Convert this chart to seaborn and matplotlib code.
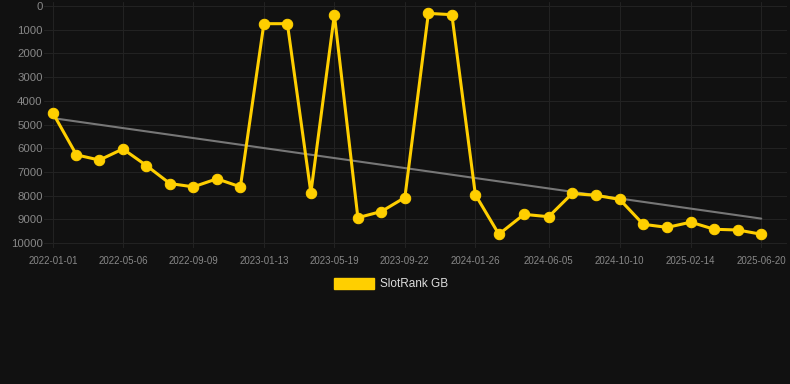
import seaborn as sns
import matplotlib.pyplot as plt
import matplotlib.dates as mdates
from matplotlib.patches import Patch
import pandas as pd

# Data (rank, lower is better -> inverted axis)
dates = ['2022-01-01', '2022-02-12', '2022-03-25', '2022-05-06', '2022-06-17',
         '2022-07-29', '2022-09-09', '2022-10-21', '2022-12-02', '2023-01-13',
         '2023-02-24', '2023-04-07', '2023-05-19', '2023-06-30', '2023-08-11',
         '2023-09-22', '2023-11-03', '2023-12-15', '2024-01-26', '2024-03-08',
         '2024-04-22', '2024-06-05', '2024-07-17', '2024-08-29', '2024-10-10',
         '2024-11-21', '2025-01-03', '2025-02-14', '2025-03-28', '2025-05-09',
         '2025-06-20']
ranks = [4520, 6280, 6500, 6030, 6730, 7490, 7630, 7290, 7630, 745,
         745, 7880, 365, 8930, 8670, 8080, 310, 365, 7960, 9630,
         8790, 8890, 7910, 7990, 8160, 9210, 9340, 9120, 9420, 9450,
         9630]
tick_dates = ['2022-01-01', '2022-05-06', '2022-09-09', '2023-01-13', '2023-05-19',
              '2023-09-22', '2024-01-26', '2024-06-05', '2024-10-10', '2025-02-14',
              '2025-06-20']
trend_dates = ['2022-01-01', '2025-06-20']
trend_values = [4730, 8970]
y_ticks = [0, 1000, 2000, 3000, 4000, 5000, 6000, 7000, 8000, 9000, 10000]

df = pd.DataFrame({'date': pd.to_datetime(dates), 'rank': ranks})
trend_df = pd.DataFrame({'date': pd.to_datetime(trend_dates), 'rank': trend_values})

bg = '#111111'
gold = '#ffcf00'

sns.set_style('dark')
plt.rcParams['font.family'] = ['Liberation Sans', 'DejaVu Sans']

fig = plt.figure(figsize=(7.9, 3.84), dpi=100, facecolor=bg)
ax = fig.add_axes([44 / 790, 1 - 248 / 384, 743 / 790, 246 / 384])
ax.set_facecolor(bg)

# trend line
sns.lineplot(data=trend_df, x='date', y='rank', ax=ax, color='#777777',
             linewidth=1.5, zorder=2)
# main series
sns.lineplot(data=df, x='date', y='rank', ax=ax, color=gold, linewidth=2.2,
             marker='o', markersize=7.5, markeredgecolor=gold, zorder=3)

start = pd.Timestamp('2022-01-01')
end = pd.Timestamp('2025-06-20')
ax.set_xlim(start - pd.Timedelta(days=16), end + pd.Timedelta(days=46))
ax.set_ylim(10210, -170)

ax.set_xticks(pd.to_datetime(tick_dates))
ax.xaxis.set_major_formatter(mdates.DateFormatter('%Y-%m-%d'))
ax.set_yticks(y_ticks)

ax.tick_params(axis='x', colors='#888888', labelsize=7, length=0, pad=6)
ax.tick_params(axis='y', colors='#888888', labelsize=8.2, length=0, pad=1)
ax.grid(True, color='#222222', linewidth=0.8)
for s in ax.spines.values():
    s.set_visible(False)
ax.set_xlabel('')
ax.set_ylabel('')

handle = Patch(facecolor=gold, edgecolor=gold)
fig.legend([handle], ['SlotRank GB'], loc='center', bbox_to_anchor=(0.495, 1 - 284 / 384),
           frameon=False, handlelength=3.4, handleheight=1.15, labelcolor='#dddddd',
           fontsize=8.5, handletextpad=0.5)

fig.savefig('out.png', dpi=100, facecolor=bg)
